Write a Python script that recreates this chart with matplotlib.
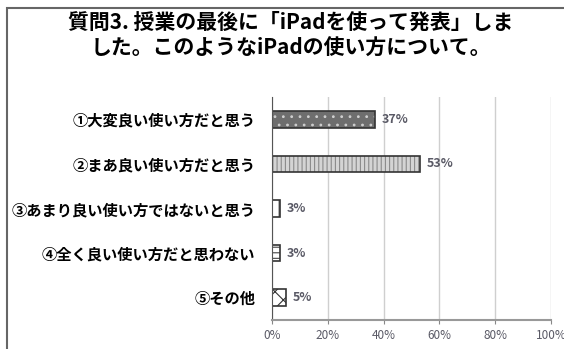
import matplotlib
matplotlib.use("Agg")
import matplotlib.pyplot as plt
from matplotlib.patches import Rectangle

plt.rcParams['font.family'] = ['Noto Sans CJK JP', 'DejaVu Sans']
plt.rcParams['hatch.linewidth'] = 0.8

# data
categories = ["①大変良い使い方だと思う", "②まあ良い使い方だと思う",
              "③あまり良い使い方ではないと思う", "④全く良い使い方だと思わない",
              "⑤その他"]
values = [37, 53, 3, 3, 5]
tick_vals = [0, 20, 40, 60, 80, 100]
tick_labels = ["0%", "20%", "40%", "60%", "80%", "100%"]
title = "質問3. 授業の最後に「iPadを使って発表」しま\nした。このようなiPadの使い方について。"

face = ["#6e6e6e", "#d4d4d4", "white", "white", "white"]
hatch_col = ["#cfcfcf", "#8a8a8a", "#444444", "#444444", "#333333"]
hatches = ["..", "||||", "||", "---", "xx"]

fig = plt.figure(figsize=(5.64, 3.49), dpi=100)
fig.patch.set_facecolor("white")
ax = fig.add_axes([0.482, 0.083, 0.495, 0.639])

ypos = list(range(len(categories)))
ax.barh(ypos, values, height=0.37, color=face, edgecolor=hatch_col,
        linewidth=0, hatch=hatches)
bars = ax.barh(ypos, values, height=0.37, fill=False, edgecolor="#333333",
               linewidth=1.2)
for b, v in zip(bars, values):
    ax.text(b.get_width() + 2.5, b.get_y() + b.get_height() / 2, f"{v}%",
            va="center", ha="left", fontsize=9, color="#5a5a66",
            fontweight="bold")

ax.set_ylim(len(categories) - 0.5, -0.5)
ax.set_xlim(0, 100)
ax.set_yticks(ypos)
ax.set_yticklabels(categories, fontsize=11, fontweight="bold")
ax.set_xticks(tick_vals)
ax.set_xticklabels(tick_labels, fontsize=8.5, color="#5a5a66")
ax.tick_params(axis="y", length=0, pad=12)
ax.tick_params(axis="x", length=3, color="#888888")
ax.xaxis.grid(True, color="#cfcfcf", linewidth=1.0)
ax.set_axisbelow(True)
for s in ["top", "right"]:
    ax.spines[s].set_visible(False)
ax.spines["left"].set_color("#555555")
ax.spines["bottom"].set_color("#999999")
ax.spines["bottom"].set_linewidth(1.5)

fig.text(0.515, 0.965, title, ha="center", va="top", fontsize=15,
         fontweight="bold", linespacing=1.25)

# outer frame (cut off on the right and bottom)
fig.add_artist(Rectangle((7 / 564, -0.1), 1.2, 1.1 - 8 / 349,
                         transform=fig.transFigure, fill=False,
                         edgecolor="#666666", linewidth=1.5))

fig.savefig("out.png", dpi=100)
